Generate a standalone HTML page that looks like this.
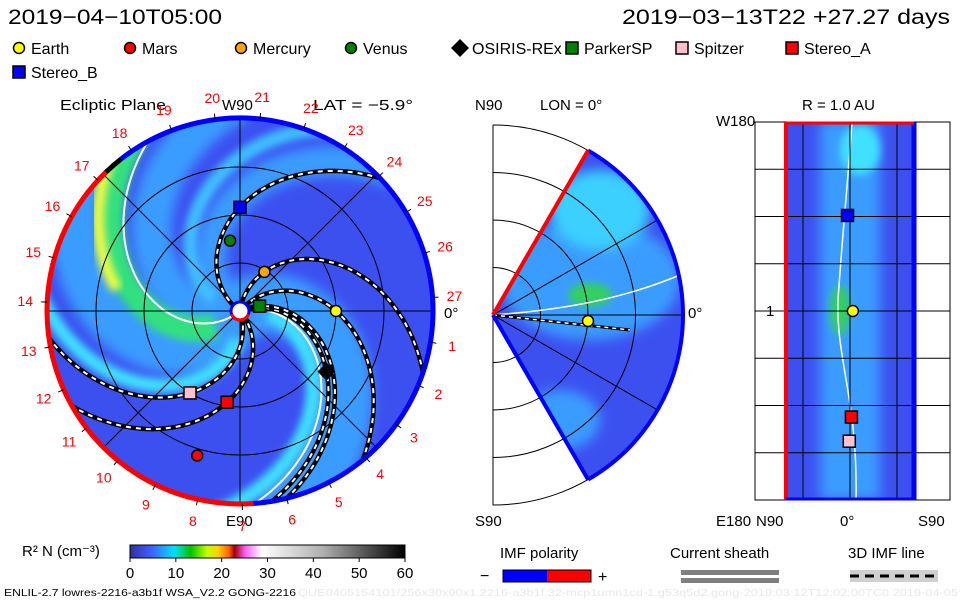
<!DOCTYPE html>
<html><head><meta charset="utf-8">
<style>
html,body{margin:0;padding:0;background:#fff;}
body{width:960px;height:600px;overflow:hidden;font-family:"Liberation Sans",sans-serif;}
svg text{font-family:"Liberation Sans",sans-serif;}
</style></head>
<body>
<svg id="chart" width="960" height="600" viewBox="0 0 960 600" xmlns="http://www.w3.org/2000/svg">
<defs>
<filter id="blur" x="-20%" y="-20%" width="140%" height="140%"><feGaussianBlur stdDeviation="6"/></filter>
<filter id="blur2" x="-20%" y="-20%" width="140%" height="140%"><feGaussianBlur stdDeviation="4"/></filter>
<clipPath id="diskClip"><circle cx="240" cy="311" r="193"/></clipPath>
<clipPath id="wedgeClip"><path d="M493,315 L588,150 A190,190 0 0 1 588,480 Z"/></clipPath>
<clipPath id="rectClip"><rect x="786" y="122" width="128" height="378"/></clipPath>
<linearGradient id="cbar" x1="0" x2="1">
<stop offset="0" stop-color="#3030a0"/><stop offset="0.08" stop-color="#4060ff"/><stop offset="0.16" stop-color="#00e0ff"/>
<stop offset="0.22" stop-color="#00c000"/><stop offset="0.28" stop-color="#c0ff00"/><stop offset="0.32" stop-color="#ffd000"/>
<stop offset="0.36" stop-color="#ff6000"/><stop offset="0.38" stop-color="#a00000"/><stop offset="0.42" stop-color="#ff60ff"/>
<stop offset="0.48" stop-color="#ffffff"/><stop offset="0.7" stop-color="#b0b0b0"/><stop offset="1" stop-color="#000000"/>
</linearGradient>
</defs>
<text x="8" y="24" font-size="21" textLength="214" lengthAdjust="spacingAndGlyphs" fill="#000">2019−04−10T05:00</text>
<text x="622" y="24" font-size="21" textLength="328" lengthAdjust="spacingAndGlyphs" fill="#000">2019−03−13T22 +27.27 days</text>
<g id="legend"></g>
<text x="60" y="110" font-size="15" textLength="106" lengthAdjust="spacingAndGlyphs">Ecliptic Plane</text>
<text x="222" y="110" font-size="15">W90</text>
<text x="313" y="110" font-size="15" textLength="100" lengthAdjust="spacingAndGlyphs">LAT = −5.9°</text>
<text x="226" y="526" font-size="15">E90</text>
<text x="444" y="318" font-size="15">0°</text>
<g id="disk"></g>
<g id="wedge"></g>
<text x="475" y="110" font-size="15">N90</text>
<text x="540" y="110" font-size="15">LON = 0°</text>
<text x="475" y="526" font-size="15">S90</text>
<text x="688" y="318" font-size="15">0°</text>
<g id="rpanel"></g>
<text x="802" y="110" font-size="15">R = 1.0 AU</text>
<text x="716" y="126" font-size="15">W180</text>
<text x="716" y="526" font-size="15">E180</text>
<text x="766" y="316" font-size="15">1</text>
<text x="756" y="526" font-size="15">N90</text>
<text x="840" y="526" font-size="15">0°</text>
<text x="918" y="526" font-size="15">S90</text>
<text x="22" y="556" font-size="15">R² N (cm⁻³)</text>
<rect x="130" y="545" width="275" height="13" fill="url(#cbar)" stroke="#000"/>
<g id="cbticks"></g>
<text x="500" y="558" font-size="15">IMF polarity</text>
<text x="480" y="581" font-size="16">−</text>
<rect x="503" y="570" width="44" height="12" fill="#0000ff"/>
<rect x="547" y="570" width="44" height="12" fill="#ff0000"/>
<rect x="503" y="570" width="88" height="12" fill="none" stroke="#000"/>
<text x="598" y="582" font-size="16">+</text>
<text x="670" y="558" font-size="15">Current sheath</text>
<rect x="681" y="570" width="98" height="5" fill="#808080"/>
<rect x="681" y="578" width="98" height="5" fill="#808080"/>
<text x="848" y="558" font-size="15">3D IMF line</text>
<rect x="850" y="570" width="88" height="12" fill="#d0d0d0"/>
<line x1="850" y1="576" x2="938" y2="576" stroke="#000" stroke-width="3" stroke-dasharray="9,6"/>
<text x="4" y="596" font-size="10" textLength="292" lengthAdjust="spacingAndGlyphs">ENLIL-2.7 lowres-2216-a3b1f WSA_V2.2 GONG-2216</text>
<text x="298" y="596" font-size="10" textLength="660" lengthAdjust="spacingAndGlyphs" fill="#e8e8e8">QUE0405154101/256x30x90x1.2216-a3b1f.32-mcp1umn1cd-1.g53q5d2.gong-2019:03:12T12:02:00TC0    2019-04-05</text>
</svg>
<script>
// ---- data ----
const bodyNames = ["Earth","Mars","Mercury","Venus","OSIRIS-REx","ParkerSP","Spitzer","Stereo_A","Stereo_B"];
const bodyColors = ["#ffff00","#ff0000","#ffa500","#008000","#000000","#008000","#ffc0cb","#ff0000","#0000ff"];
const bodyShapes = ["circle","circle","circle","circle","diamond","square","square","square","square"];
const bodyRadiusAU = [1.0,1.57,0.48,0.74,1.10,0.21,1.0,0.96,1.08];
const bodyAngleDeg = [0,253.5,58,98,325,14,238.6,262,90];
const fieldLineBodies = ["Earth","Mercury","OSIRIS-REx","Stereo_A","Stereo_B","Spitzer","ParkerSP"];
const densityBandAngles = [177,-41,230,120];
const densityBandColors = ["#30e080","#40e0ff","#40e0ff","#40c0ff"];
const carringtonLabels = [1,2,3,4,5,6,7,8,9,10,11,12,13,14,15,16,17,18,19,20,21,22,23,24,25,26,27];
const rPanelNames = ["Stereo_B","Earth","Stereo_A","Spitzer"];
const rPanelLat = [3.5,-4,-2,1];
const rPanelLon = [91,0,-101,-124];
const cbTicks = [0,10,20,30,40,50,60];

const NS="http://www.w3.org/2000/svg";
function mk(tag,attrs,parent){const e=document.createElementNS(NS,tag);for(const k in attrs)e.setAttribute(k,attrs[k]);parent.appendChild(e);return e;}
const CX=240,CY=311,PX=96;
function xy(rAU,deg){const a=deg*Math.PI/180;return [CX+rAU*PX*Math.cos(a),CY-rAU*PX*Math.sin(a)];}
function marker(parent,shape,color,x,y,name){
  let e;
  if(shape==="circle") e=mk("circle",{cx:x,cy:y,r:5.5,fill:color,stroke:"#000","stroke-width":1.5},parent);
  else if(shape==="square") e=mk("rect",{x:x-6,y:y-6,width:12,height:12,fill:color,stroke:"#000","stroke-width":1.5},parent);
  else e=mk("path",{d:`M${x},${y-9}L${x+9},${y}L${x},${y+9}L${x-9},${y}Z`,fill:color},parent);
  
  
  return e;
}
const leg=document.getElementById("legend");
const legPos=[[12,48],[123,48],[234,48],[344,48],[453,48],[565,48],[675,48],[785,48],[12,72]];
bodyNames.forEach((n,i)=>{
  const [x,y]=legPos[i];
  const g=mk("g",{},leg);
  
  
  marker(g,bodyShapes[i],bodyColors[i],x+7,y,"legend-marker");
  const t=mk("text",{x:x+19,y:y+6,"font-size":16},g);t.textContent=n;
});
const disk=document.getElementById("disk");
const dg=mk("g",{"clip-path":"url(#diskClip)"},disk);
mk("circle",{cx:CX,cy:CY,r:193,fill:"#3c50f0"},dg);
const lb=mk("g",{filter:"url(#blur)"},dg);
function spiralPts(a1,r0,r1,step){const pts=[];for(let r=r0;r<=r1+1e-6;r+=step){pts.push(xy(r,a1-(r-1)*50));}return pts;}
function ptsToD(p){return "M"+p.map(q=>q[0].toFixed(1)+","+q[1].toFixed(1)).join("L");}
[[-20,"#3a9cff",60],[200,"#3a9cff",50],[100,"#3a9cff",30],[150,"#3a9cff",40]].forEach(b=>{
  mk("path",{d:ptsToD(spiralPts(b[0],0.05,2.2,0.05)),stroke:b[1],"stroke-width":b[2],fill:"none"},lb);
});
densityBandAngles.forEach((a,i)=>{
  const p=mk("path",{d:ptsToD(spiralPts(a,0.3,2.2,0.05)),stroke:densityBandColors[i],"stroke-width":i===0?26:14,fill:"none",filter:"url(#blur2)"},dg);
  
  
});
mk("path",{d:ptsToD(spiralPts(densityBandAngles[0]+8,1.3,2.2,0.05)),stroke:"#f0ff40","stroke-width":12,fill:"none",filter:"url(#blur2)"},dg);
[densityBandAngles[0]-8,densityBandAngles[1]+6].forEach(a=>{
  mk("path",{d:ptsToD(spiralPts(a,0.05,2.2,0.05)),stroke:"#fff","stroke-width":2,fill:"none"},dg);
});
[0.5,1,1.5].forEach(r=>mk("circle",{cx:CX,cy:CY,r:r*PX,fill:"none",stroke:"#000","stroke-width":1},dg));
[0,45,90,135].forEach(a=>{const p1=xy(2.1,a),p2=xy(2.1,a+180);mk("line",{x1:p1[0],y1:p1[1],x2:p2[0],y2:p2[1],stroke:"#000","stroke-width":1},dg);});
fieldLineBodies.forEach(n=>{
  const i=bodyNames.indexOf(n);const r0=bodyRadiusAU[i],a0=bodyAngleDeg[i];
  const pts=[];for(let r=0.05;r<=2.2;r+=0.04)pts.push(xy(r,a0-(r-r0)*50));
  const d=ptsToD(pts);
  mk("path",{d:d,stroke:"#000","stroke-width":4.5,fill:"none"},dg);
  const w=mk("path",{d:d,stroke:"#fff","stroke-width":2,fill:"none","stroke-dasharray":"5,5"},dg);
  
  
});
function arc(a1,a2,r){const p1=xy(r/PX,a1),p2=xy(r/PX,a2);const large=Math.abs(a2-a1)>180?1:0;return `M${p1[0]},${p1[1]}A${r},${r} 0 ${large} 0 ${p2[0]},${p2[1]}`;}
const rimB=mk("path",{d:arc(-86,128,193),stroke:"#0000ff","stroke-width":5,fill:"none"},disk);

const rimR=mk("path",{d:arc(134,274,193),stroke:"#ff0000","stroke-width":5,fill:"none"},disk);

mk("path",{d:arc(128,134,193),stroke:"#000","stroke-width":5,fill:"none"},disk);
mk("circle",{cx:CX,cy:CY,r:9,fill:"#fff",stroke:"#0000ff","stroke-width":3},disk);
mk("path",{d:arc(200,340,9),stroke:"#ff0000","stroke-width":3,fill:"none"},disk);
carringtonLabels.forEach(k=>{
  const a=4-13.33*(k%27);const [x,y]=xy(215/PX,a);
  const t=mk("text",{x:x,y:y+5,"font-size":14,fill:"#ff0000","text-anchor":"middle"},disk);t.textContent=k;
  
  const [tx1,ty1]=xy(193/PX,a),[tx2,ty2]=xy(199/PX,a);
  mk("line",{x1:tx1,y1:ty1,x2:tx2,y2:ty2,stroke:"#000"},disk);
});
bodyNames.forEach((n,i)=>{const [x,y]=xy(bodyRadiusAU[i],bodyAngleDeg[i]);marker(disk,bodyShapes[i],bodyColors[i],x,y,"disk-"+n.toLowerCase());});

const wedge=document.getElementById("wedge");
const WX=493,WY=315,WR=190;
[0.5,1,1.5,2].forEach(r=>mk("path",{d:`M${WX},${WY-r*WR/2} A${r*WR/2},${r*WR/2} 0 0 1 ${WX},${WY+r*WR/2}`,fill:"none",stroke:"#000"},wedge));
mk("line",{x1:WX,y1:WY-WR,x2:WX,y2:WY+WR,stroke:"#000"},wedge);
const wg=mk("g",{"clip-path":"url(#wedgeClip)"},wedge);
mk("rect",{x:480,y:120,width:220,height:380,fill:"#3c50f0"},wg);
mk("ellipse",{cx:590,cy:280,rx:90,ry:60,fill:"#3a9cff",filter:"url(#blur)"},wg);
mk("ellipse",{cx:600,cy:210,rx:50,ry:40,fill:"#3ad0ff",filter:"url(#blur)"},wg);
mk("ellipse",{cx:590,cy:295,rx:22,ry:12,fill:"#30d060",filter:"url(#blur2)"},wg);
mk("ellipse",{cx:560,cy:420,rx:40,ry:30,fill:"#3a9cff",filter:"url(#blur)"},wg);
[0.5,1,1.5].forEach(r=>mk("path",{d:`M${WX},${WY-r*WR/2} A${r*WR/2},${r*WR/2} 0 0 1 ${WX},${WY+r*WR/2}`,fill:"none",stroke:"#000"},wg));
[60,30,0,-30,-60].forEach(a=>{const t=a*Math.PI/180;mk("line",{x1:WX,y1:WY,x2:WX+WR*Math.cos(t),y2:WY-WR*Math.sin(t),stroke:"#000"},wg);});
mk("path",{d:"M493,315 C560,310 620,300 680,275",stroke:"#fff","stroke-width":1.5,fill:"none"},wg);
mk("path",{d:"M493,315 L630,330",stroke:"#000","stroke-width":3,fill:"none"},wg);
mk("path",{d:"M493,315 L630,330",stroke:"#fff","stroke-width":1.5,fill:"none","stroke-dasharray":"4,4"},wg);
mk("path",{d:`M${WX+WR*Math.cos(1.047)},${WY-WR*Math.sin(1.047)} A${WR},${WR} 0 0 1 ${WX+WR*Math.cos(1.047)},${WY+WR*Math.sin(1.047)}`,stroke:"#0000ff","stroke-width":4,fill:"none"},wedge);
mk("line",{x1:WX,y1:WY,x2:WX+WR*Math.cos(1.047),y2:WY-WR*Math.sin(1.047),stroke:"#ff0000","stroke-width":4},wedge);
mk("line",{x1:WX,y1:WY,x2:WX+WR*Math.cos(1.047),y2:WY+WR*Math.sin(1.047),stroke:"#0000ff","stroke-width":4},wedge);
marker(wedge,"circle","#ffff00",WX+bodyRadiusAU[0]*WR/2,WY+6,"wedge-earth");

const rp=document.getElementById("rpanel");
const RX0=786,RW=128,RY0=122,RH=378;
function rpX(lat){return RX0+RW/2-lat*RW/180;}
function rpY(lon){return RY0+RH/2-lon*RH/360;}
const rg=mk("g",{"clip-path":"url(#rectClip)"},rp);
mk("rect",{x:RX0,y:RY0,width:RW,height:RH,fill:"#3c50f0"},rg);
mk("rect",{x:820,y:122,width:60,height:378,fill:"#3a9cff",filter:"url(#blur)"},rg);
mk("ellipse",{cx:840,cy:310,rx:10,ry:25,fill:"#30d060",filter:"url(#blur2)"},rg);
mk("ellipse",{cx:860,cy:150,rx:20,ry:25,fill:"#40e0ff",filter:"url(#blur2)"},rg);
mk("path",{d:"M852,122 C848,180 842,240 838,300 C836,360 858,400 856,500",stroke:"#fff","stroke-width":1.5,fill:"none"},rg);
for(let i=0;i<=8;i++){const y=RY0+i*RH/8;mk("line",{x1:755,y1:y,x2:950,y2:y,stroke:"#000"},rp);}
[RX0+17,RX0+RW/2,RX0+RW-17].forEach(x=>mk("line",{x1:x,y1:RY0,x2:x,y2:RY0+RH,stroke:"#000"},rp));
mk("rect",{x:755,y:RY0,width:195,height:RH,fill:"none",stroke:"#000"},rp);
mk("line",{x1:RX0,y1:RY0,x2:RX0,y2:RY0+RH,stroke:"#ff0000","stroke-width":4},rp);
mk("line",{x1:RX0+RW,y1:RY0,x2:RX0+RW,y2:RY0+RH,stroke:"#0000ff","stroke-width":5},rp);
mk("line",{x1:RX0,y1:RY0+1,x2:RX0+RW,y2:RY0+1,stroke:"#ff0000","stroke-width":3},rp);
mk("line",{x1:RX0,y1:RY0+RH-1,x2:RX0+RW,y2:RY0+RH-1,stroke:"#0000ff","stroke-width":3},rp);
rPanelNames.forEach((n,i)=>{const b=bodyNames.indexOf(n);marker(rp,bodyShapes[b],bodyColors[b],rpX(rPanelLat[i]),rpY(rPanelLon[i]),"rpanel-"+n.toLowerCase());});

const cbt=document.getElementById("cbticks");
cbTicks.forEach(v=>{const x=130+v/60*275;mk("line",{x1:x,y1:558,x2:x,y2:562,stroke:"#000"},cbt);
  const t=mk("text",{x:x,y:578,"font-size":15,"text-anchor":"middle"},cbt);t.textContent=v;
  });
</script>
</body></html>
